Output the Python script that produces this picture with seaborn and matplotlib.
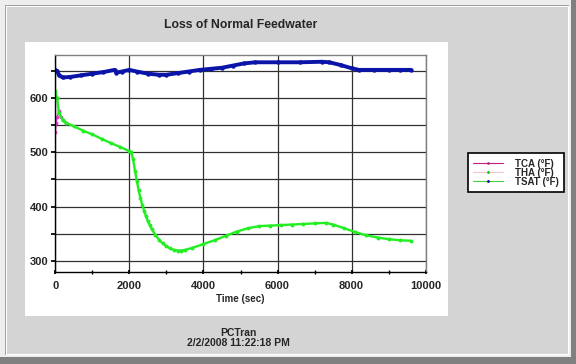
import numpy as np
import pandas as pd
import matplotlib
matplotlib.use('Agg')
from matplotlib import pyplot as plt
from matplotlib.patches import Rectangle
from matplotlib.lines import Line2D
import seaborn as sns

# Valores (tempo em s, temperatura em °F)
t_tca = [0, 25, 50, 100, 150, 200, 300]
v_tca = [538, 555, 566, 576, 565, 560, 554]

t_tha = [0, 50, 100, 200, 300, 500, 750, 1000, 1250, 1500, 1750, 2000, 2050,
         2100, 2150, 2200, 2250, 2300, 2350, 2400, 2450, 2500, 2550, 2600,
         2700, 2800, 2900, 3000, 3100, 3200, 3300, 3400, 3500, 3700, 4000,
         4300, 4600, 4900, 5200, 5500, 5800, 6100, 6400, 6700, 7000, 7300,
         7500, 7800, 8100, 8400, 8700, 9000, 9300, 9600]
v_tha = [614, 600, 572, 560, 554, 548, 540, 533, 525, 517, 510, 502, 500,
         488, 466, 448, 430, 415, 403, 392, 382, 373, 366, 359,
         348, 339, 332, 327, 323, 320, 319, 319, 320, 324, 331,
         338, 346, 354, 360, 364, 365, 366, 367, 368, 369, 370,
         367, 360, 353, 347, 343, 340, 338, 337]

t_tsat = [0, 50, 100, 200, 400, 700, 1000, 1300, 1600, 1650, 1800, 2000,
          2200, 2500, 2800, 3000, 3300, 3600, 3900, 4200, 4500, 4800, 5100,
          5400, 6000, 6600, 7200, 7400, 7700, 8000, 8200, 8600, 9000, 9300, 9600]
v_tsat = [652, 650, 642, 638, 639, 642, 645, 648, 652, 647, 649, 652,
          649, 645, 643, 643, 646, 649, 652, 654, 656, 660, 664,
          666, 666, 666, 667, 666, 661, 655, 652, 652, 652, 652, 652]

legend_labels = ['TCA (°F)', 'THA (°F)', 'TSAT (°F)']
x_ticks = [0, 2000, 4000, 6000, 8000, 10000]
y_ticks = [300, 350, 400, 450, 500, 550, 600, 650]
y_labels = ['300', '', '400', '', '500', '', '600', '']

tca = pd.DataFrame({'t': t_tca, 'v': v_tca})
tha = pd.DataFrame({'t': t_tha, 'v': v_tha})
tsat = pd.DataFrame({'t': t_tsat, 'v': v_tsat})

sns.set_theme(style='white')
plt.rcParams['font.family'] = ['Liberation Sans', 'DejaVu Sans']
plt.rcParams['font.weight'] = 'bold'

W, H = 576, 364
fig = plt.figure(figsize=(W / 100, H / 100), dpi=100)
fig.patch.set_facecolor('#808080')


def caixa(x0, y0, x1, y1, cor, z=-10):
    # retângulo em pixels, origem no canto superior esquerdo
    fig.add_artist(Rectangle((x0 / W, 1 - y1 / H), (x1 - x0) / W, (y1 - y0) / H,
                             transform=fig.transFigure, facecolor=cor,
                             edgecolor='none', zorder=z))


# Moldura estilo janela
caixa(0, 0, 571, 357, '#eeeeee', -12)
caixa(5, 5, 569, 355, '#a0a0a0', -11)
caixa(6, 6, 569, 355, '#ffffff', -10.5)
caixa(7, 7, 568, 354, '#d4d4d4', -10)
caixa(25, 42, 448, 316, '#ffffff', -9)

ax = fig.add_axes([55.3 / W, 1 - 271.7 / H, (425.7 - 55.3) / W, (271.7 - 54.7) / H])
ax.set_facecolor('white')

sns.lineplot(data=tsat, x='t', y='v', ax=ax, color='#0a14a8', linewidth=2.8,
             marker='o', markersize=3.2, markeredgewidth=0, legend=False)
sns.lineplot(data=tca, x='t', y='v', ax=ax, color='#e040c0', linewidth=1,
             marker='o', markersize=2.8, markeredgewidth=0, legend=False)
sns.lineplot(data=tha, x='t', y='v', ax=ax, color='#22ee22', linewidth=1.7,
             marker='o', markersize=2.8, markeredgewidth=0, legend=False)

ax.set_xlim(0, 10000)
ax.set_ylim(280, 680)
ax.set_xticks(x_ticks)
ax.set_xticks([1000, 3000, 5000, 7000, 9000], minor=True)
ax.set_yticks(y_ticks)
ax.set_yticklabels(y_labels)
ax.grid(True, which='major', color='#303030', linewidth=0.9)
ax.tick_params(axis='x', which='major', length=3, direction='inout', labelsize=8, pad=5, color='black')
ax.tick_params(axis='x', which='minor', length=3, direction='inout', color='black', bottom=True)
ax.tick_params(axis='y', which='major', length=3, direction='out', labelsize=8, pad=2, color='black', left=True)
ax.tick_params(axis='x', bottom=True)
for lab in ax.get_xticklabels() + ax.get_yticklabels():
    lab.set_fontweight('bold')

ax.spines['left'].set_color('black')
ax.spines['bottom'].set_color('black')
ax.spines['top'].set_color('#808080')
ax.spines['right'].set_color('#808080')
for s in ax.spines.values():
    s.set_linewidth(1)

ax.set_xlabel('Time (sec)', fontsize=7, fontweight='bold', labelpad=2)
ax.set_ylabel('')

fig.text(241 / W, 1 - 25 / H, 'Loss of Normal Feedwater', ha='center', va='center',
         fontsize=8.8, fontweight='bold')
fig.text(238 / W, 1 - 332.5 / H, 'PCTran', ha='center', va='center',
         fontsize=7.5, fontweight='bold')
fig.text(238 / W, 1 - 343.5 / H, '2/2/2008 11:22:18 PM', ha='center', va='center',
         fontsize=7.5, fontweight='bold')

# Legenda como no original (cores de linha e marcador trocadas)
handles = [
    Line2D([], [], color='#c0207f', lw=0.8, marker='o', ms=2, mfc='#c0207f', mec='none'),
    Line2D([], [], color='#f0c8c8', lw=0.8, marker='o', ms=2, mfc='#00cc00', mec='none'),
    Line2D([], [], color='#40d040', lw=0.8, marker='o', ms=2, mfc='#0000a0', mec='none'),
]
leg = fig.legend(handles, legend_labels, loc='upper left',
                 bbox_to_anchor=(467.7 / W, 1 - 153.3 / H), fontsize=7,
                 frameon=True, fancybox=False, framealpha=1, edgecolor='black',
                 borderpad=0.55, handlelength=3.1, handletextpad=1.2,
                 labelspacing=-0.1, borderaxespad=0)
leg.get_frame().set_linewidth(1.2)
for txt in leg.get_texts():
    txt.set_fontweight('bold')

plt.savefig('out.png', dpi=100, facecolor=fig.get_facecolor())
